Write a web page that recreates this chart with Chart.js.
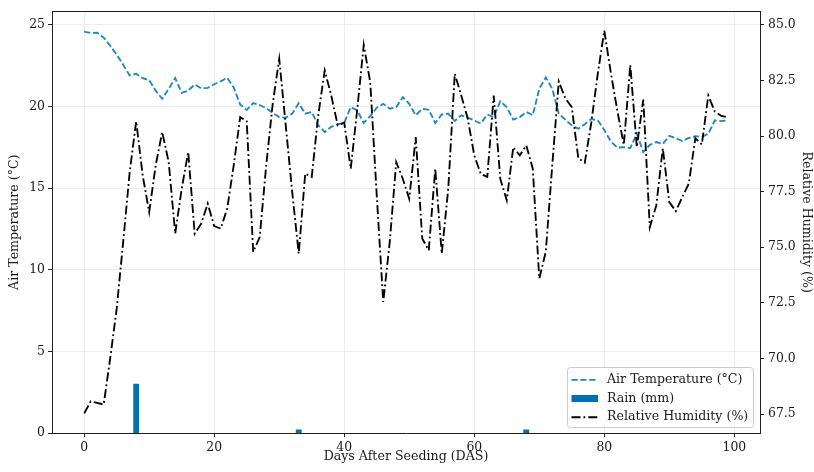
<!DOCTYPE html>
<html><head><meta charset="utf-8">
<script src="https://cdn.jsdelivr.net/npm/chart.js@4.4.1/dist/chart.umd.min.js"></script>
<style>html,body{margin:0;padding:0;background:#fff;} canvas{display:block;}</style>
</head><body>
<canvas id="c" width="814" height="472"></canvas>
<script>
// ---- data ----
const days = [0,1,2,3,4,5,6,7,8,9,10,11,12,13,14,15,16,17,18,19,20,21,22,23,24,25,26,27,28,29,
30,31,32,33,34,35,36,37,38,39,40,41,42,43,44,45,46,47,48,49,50,51,52,53,54,55,56,57,58,59,
60,61,62,63,64,65,66,67,68,69,70,71,72,73,74,75,76,77,78,79,80,81,82,83,84,85,86,87,88,89,
90,91,92,93,94,95,96,97,98,99];
const airTemp = [24.58,24.50,24.52,24.22,23.72,23.17,22.56,21.90,22.00,21.73,
21.61,20.97,20.47,21.08,21.74,20.83,20.97,21.35,21.11,21.14,
21.36,21.54,21.76,21.16,20.11,19.79,20.21,20.09,19.89,19.61,
19.35,19.31,19.56,20.20,19.56,19.66,18.84,18.44,18.75,18.91,
18.99,19.96,19.76,18.99,19.41,19.92,20.16,19.86,19.96,20.57,
20.16,19.46,19.86,19.80,18.99,19.51,19.56,19.11,19.46,19.31,
19.15,18.95,19.51,19.35,20.31,19.96,19.19,19.35,19.66,19.46,
21.08,21.78,21.08,19.56,19.19,18.84,18.64,18.91,19.23,19.15,
18.56,17.86,17.48,17.50,17.45,18.34,17.20,17.65,17.82,17.70,
18.20,18.05,17.88,18.07,18.18,18.13,18.33,19.15,19.10,19.15];
const relHumidity = [67.53,68.07,68.00,67.93,70.00,72.24,75.24,78.38,80.66,78.23,
76.58,78.68,80.18,78.83,75.61,77.63,79.28,75.61,76.06,76.96,
75.95,75.84,76.74,78.68,80.85,80.66,74.79,75.46,78.68,81.45,
83.47,80.48,77.48,74.71,78.31,78.16,80.93,82.95,81.82,80.48,
80.60,78.53,81.20,84.10,82.42,77.33,72.54,75.24,78.83,78.08,
77.18,79.95,75.39,74.86,78.53,74.71,77.63,82.80,81.82,80.78,
79.13,78.30,78.16,81.82,78.08,77.11,79.50,79.13,79.58,78.53,
73.59,74.80,78.70,82.45,81.70,81.30,79.00,78.80,80.60,82.80,
84.74,82.85,81.15,79.60,83.20,79.50,81.64,75.90,76.88,79.45,
77.03,76.62,77.26,77.86,79.90,79.62,81.82,81.10,80.90,80.84];
const rainDays = [8, 33, 68];
const rainMm = [3.0, 0.2, 0.2];
const xTicks = [0, 20, 40, 60, 80, 100];
const tempTicks = [0, 5, 10, 15, 20, 25];
const rhTicks = [67.5, 70.0, 72.5, 75.0, 77.5, 80.0, 82.5, 85.0];

// ---- style ----
const FONT = 'DejaVu Serif';
const FS = 12.4;
const FS_T = 12.6;
const TXT = '#1a1a1a';
const AX = '#222222';
const GRID = '#e9e9e9';

const tickFont = {family: FONT, size: FS};
const titleFont = {family: FONT, size: FS_T};

const topBorder = {
  id: 'topBorder',
  afterDraw(chart) {
    const {ctx, chartArea: a} = chart;
    ctx.save();
    ctx.strokeStyle = AX; ctx.lineWidth = 1;
    ctx.beginPath();
    ctx.moveTo(a.left, Math.round(a.top) + 0.5);
    ctx.lineTo(a.right, Math.round(a.top) + 0.5);
    ctx.stroke();
    ctx.restore();
  }
};

const insideLegend = {
  id: 'insideLegend',
  afterDraw(chart) {
    const {ctx, chartArea: a} = chart;
    const w = 186, h = 60;
    const x0 = a.right - 7 - w, y0 = a.bottom - 6 - h;
    ctx.save();
    ctx.beginPath();
    if (ctx.roundRect) ctx.roundRect(x0 + 0.5, y0 + 0.5, w, h, 3); else ctx.rect(x0 + 0.5, y0 + 0.5, w, h);
    ctx.fillStyle = 'rgba(255,255,255,0.8)';
    ctx.fill();
    ctx.strokeStyle = '#cccccc'; ctx.lineWidth = 1;
    ctx.stroke();
    chart.data.datasets.forEach((ds, k) => {
      const cy = y0 + 12.8 + k * 18.7;
      const hx0 = x0 + 4.5, hx1 = x0 + 31;
      if (ds.type === 'bar') {
        ctx.fillStyle = ds.backgroundColor;
        ctx.fillRect(hx0, cy - 3.5, hx1 - hx0, 7);
      } else {
        ctx.strokeStyle = ds.borderColor;
        ctx.lineWidth = ds.borderWidth;
        ctx.setLineDash(ds.borderDash || []);
        ctx.beginPath(); ctx.moveTo(hx0, cy); ctx.lineTo(hx1, cy); ctx.stroke();
        ctx.setLineDash([]);
      }
      ctx.fillStyle = TXT;
      ctx.font = FS_T + 'px "' + FONT + '"';
      ctx.textBaseline = 'middle';
      ctx.textAlign = 'left';
      ctx.fillText(ds.label, x0 + 40, cy);
    });
    ctx.restore();
  }
};

new Chart(document.getElementById('c'), {
  type: 'line',
  data: {
    datasets: [
      {
        type: 'line', label: 'Air Temperature (°C)',
        data: days.map((d, i) => ({x: d, y: airTemp[i]})),
        borderColor: '#1a88c4', borderWidth: 1.85, borderDash: [6.2, 2.7],
        pointRadius: 0, tension: 0, fill: false, xAxisID: 'x', yAxisID: 'y', order: 1
      },
      {
        type: 'bar', label: 'Rain (mm)',
        data: rainDays.map((d, i) => ({x: d, y: rainMm[i]})),
        backgroundColor: '#0072B2', borderWidth: 0, barThickness: 5.2,
        xAxisID: 'x', yAxisID: 'y', order: 2
      },
      {
        type: 'line', label: 'Relative Humidity (%)',
        data: days.map((d, i) => ({x: d, y: relHumidity[i]})),
        borderColor: '#000000', borderWidth: 1.85, borderDash: [9, 3, 1.8, 3],
        pointRadius: 0, tension: 0, fill: false, xAxisID: 'x', yAxisID: 'y1', order: 0
      }
    ]
  },
  options: {
    responsive: false,
    animation: false,
    devicePixelRatio: 1,
    layout: {padding: {top: 11, left: 0, right: 0, bottom: 0}},
    plugins: {legend: {display: false}, tooltip: {enabled: false}},
    scales: {
      x: {
        type: 'linear', position: 'bottom', min: -4.95, max: 103.95, offset: false,
        afterFit: s => { s.height = 39; },
        afterBuildTicks: s => { s.ticks = xTicks.map(v => ({value: v})); },
        grid: {offset: false, color: GRID, lineWidth: 0.8, drawTicks: true, tickColor: AX, tickLength: 4, tickWidth: 1},
        border: {display: true, color: AX, width: 1},
        ticks: {font: tickFont, color: TXT, padding: 3, maxRotation: 0, autoSkip: false},
        title: {display: true, text: 'Days After Seeding (DAS)', font: titleFont, color: TXT, padding: {top: 0, bottom: 8}}
      },
      y: {
        type: 'linear', position: 'left', min: 0, max: 25.82,
        afterFit: s => { s.width = 52; },
        afterBuildTicks: s => { s.ticks = tempTicks.map(v => ({value: v})); },
        grid: {color: GRID, lineWidth: 0.8, drawTicks: true, tickColor: AX, tickLength: 4, tickWidth: 1},
        border: {display: true, color: AX, width: 1},
        ticks: {font: tickFont, color: TXT, padding: 3},
        title: {display: true, text: 'Air Temperature (°C)', font: titleFont, color: TXT, padding: {top: 7, bottom: 0}}
      },
      y1: {
        type: 'linear', position: 'right', min: 66.65, max: 85.6,
        afterFit: s => { s.width = 54; },
        afterBuildTicks: s => { s.ticks = rhTicks.map(v => ({value: v})); },
        grid: {drawOnChartArea: false, drawTicks: true, tickColor: AX, tickLength: 4, tickWidth: 1},
        border: {display: true, color: AX, width: 1},
        ticks: {font: tickFont, color: TXT, padding: 4, callback: v => Number(v).toFixed(1)},
        title: {display: true, text: 'Relative Humidity (%)', font: titleFont, color: TXT, padding: {top: 0, bottom: 0}}
      }
    }
  },
  plugins: [topBorder, insideLegend]
});
</script>
</body></html>
